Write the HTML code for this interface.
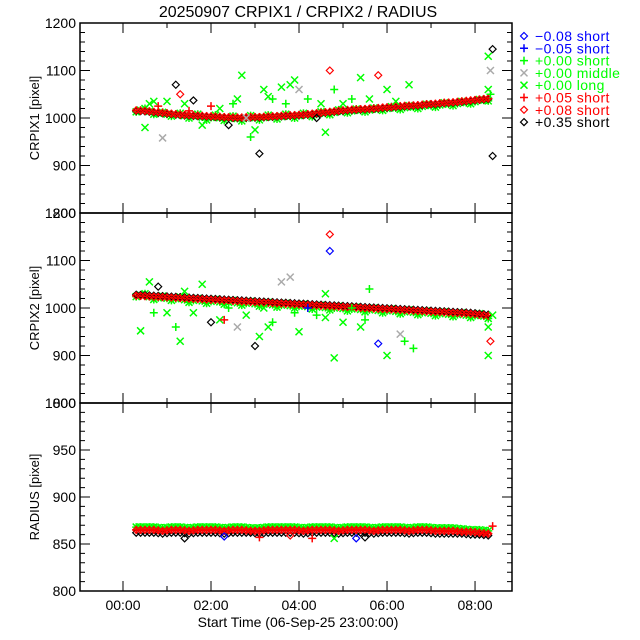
<!DOCTYPE html>
<html><head><meta charset="utf-8"><style>
body{margin:0;background:#fff}
svg{display:block;font-family:"Liberation Sans",sans-serif}
</style></head><body>
<svg id="chart" width="640" height="640" viewBox="0 0 640 640">
<rect width="640" height="640" fill="#fff"/>
<text x="298" y="17" font-size="16" text-anchor="middle">20250907 CRPIX1 / CRPIX2 / RADIUS</text>
<text x="298" y="627" font-size="14" text-anchor="middle">Start Time (06-Sep-25 23:00:00)</text>
<g id="plots"></g>
<g id="legend"></g>
</svg>
<script>
const times=[0.3,0.5,0.7,0.9,1.1,1.3,1.5,1.7,1.9,2.1,2.3,2.5,2.7,2.9,3.1,3.3,3.5,3.7,3.9,4.1,4.3,4.5,4.7,4.9,5.1,5.3,5.5,5.7,5.9,6.1,6.3,6.5,6.7,6.9,7.1,7.3,7.5,7.7,7.9,8.1,8.3];
const c1Black=[1015,1014,1012,1010,1008,1006,1005,1004,1003,1002,1001,1000,1000,1001,1001,1002,1003,1004,1005,1006,1008,1010,1012,1014,1016,1017,1018,1019,1021,1022,1024,1025,1026,1028,1029,1031,1032,1034,1036,1038,1040];
const c1Red=[1016,1015,1013,1011,1009,1007,1006,1005,1004,1003,1002,1001,1001,1002,1002,1003,1004,1005,1006,1007,1009,1011,1013,1015,1017,1018,1019,1020,1022,1023,1025,1026,1027,1029,1030,1032,1033,1035,1037,1039,1041];
const c1Green=[1013,1020,1008,1012,1004,1010,1000,1008,996,1006,995,1004,994,1005,996,1006,998,1008,1000,1010,1003,1013,1007,1017,1011,1019,1013,1021,1016,1024,1018,1026,1020,1029,1023,1032,1026,1035,1030,1039,1036];
const c2Black=[1028,1027,1026,1025,1024,1023,1022,1021,1020,1019,1018,1017,1016,1015,1014,1013,1012,1011,1010,1009,1008,1007,1006,1005,1004,1003,1002,1001,1000,999,998,997,996,995,994,993,992,991,990,988,986];
const c2Red=[1026,1025,1024,1023,1022,1021,1020,1019,1018,1017,1016,1015,1014,1013,1012,1011,1010,1009,1008,1007,1006,1005,1004,1003,1002,1001,1000,999,998,997,996,995,994,993,992,991,990,989,988,986,984];
const c2Green=[1024,1030,1018,1025,1016,1023,1012,1020,1010,1018,1008,1016,1006,1014,1004,1012,1002,1010,1000,1008,998,1006,996,1004,994,1002,992,1000,990,998,988,996,986,994,984,992,982,990,980,988,978];
const rBlack=[862,862,862,861,862,862,861,862,862,862,861,862,862,862,861,862,862,862,862,861,862,862,862,861,862,862,862,861,862,862,862,861,862,862,861,861,861,861,860,860,859];
const rRed=[865,865,865,864,865,865,864,865,865,865,864,865,865,864,864,865,865,865,865,864,865,865,865,864,865,865,865,864,865,865,865,864,865,865,864,864,864,863,863,862,861];
const rGreen=[868,868,868,867,868,868,867,868,868,868,867,868,868,867,867,868,868,868,868,867,868,868,868,867,868,868,868,867,868,868,868,867,868,868,867,867,867,866,865,865,864];
// outliers: time, value, series (0 blue diamond,1 blue +,2 green +,3 grey x,4 green x,5 red +,6 red diamond,7 black diamond)
const out1T=[0.5,0.7,0.8,0.9,1.0,1.2,1.3,1.4,1.6,1.8,2.0,2.2,2.4,2.6,2.7,2.8,2.9,3.0,3.1,3.2,3.4,3.6,3.8,3.9,4.0,4.2,4.4,4.6,4.7,4.8,5.0,5.4,5.8,6.0,6.5,8.3,8.4,8.4,8.35,0.6,1.5,2.5,3.3,3.7,4.5,5.2,5.6,6.2,8.3,8.35];
const out1V=[980,1035,1025,958,1035,1070,1050,1030,1037,985,1025,1020,985,1040,1090,1000,960,975,925,1060,1040,1065,1070,1080,1060,1040,1000,970,1100,1060,1030,1085,1090,1060,1070,1130,1145,920,1100,1030,1015,1030,1045,1030,1030,1040,1040,1035,1060,1050];
const out1S=[4,4,5,3,4,7,6,4,7,4,5,4,7,4,4,3,2,4,7,4,2,4,4,4,3,2,7,4,6,2,4,4,6,4,4,4,7,7,3,4,5,2,4,2,4,2,4,4,4,2];
const out2T=[0.4,0.6,0.8,1.0,1.2,1.4,1.6,1.8,2.0,2.2,2.4,2.6,2.8,3.0,3.1,3.2,3.4,3.6,3.8,4.0,4.2,4.4,4.6,4.7,4.7,4.8,5.0,5.2,5.4,5.6,5.8,6.0,6.3,6.6,8.3,8.35,8.4,0.7,1.3,2.3,3.3,3.9,4.6,5.5,6.4,8.3];
const out2V=[952,1055,1045,990,960,1035,990,1050,970,975,1000,960,985,920,940,1000,970,1055,1065,950,1000,985,1030,1155,1120,895,970,1000,960,1040,925,900,945,915,900,930,985,990,930,975,960,990,980,975,930,960];
const out2S=[4,4,7,4,2,4,4,4,7,4,2,3,4,7,4,4,2,3,3,4,1,2,4,6,0,4,4,2,4,2,0,4,3,2,4,6,4,2,4,5,4,2,4,2,2,4];
const out3T=[1.4,2.3,3.1,3.8,4.3,4.8,5.3,5.5,8.4];
const out3V=[856,858,857,859,856,856,856,857,869];
const out3S=[7,0,5,6,5,4,0,7,5];
const legendNums=["\u22120.08","\u22120.05","+0.00","+0.00","+0.00","+0.05","+0.08","+0.35"];
const legendKinds=["short","short","short","middle","long","short","short","short"];

const NS="http://www.w3.org/2000/svg";
const X0=80,X1=512,T0=-0.977,T1=8.84;
const xs=t=>X0+(t-T0)/(T1-T0)*(X1-X0);
const colors=["#0000ff","#0000ff","#00ff00","#aaaaaa","#00ff00","#ff0000","#ff0000","#000000"];
const shapes=["d","+","+","x","x","+","d","d"];
function el(tag,attrs,parent){const e=document.createElementNS(NS,tag);for(const k in attrs)e.setAttribute(k,attrs[k]);parent.appendChild(e);return e;}
function mark(g,x,y,s){const c=colors[s],sh=shapes[s];let e;
 if(sh==="d")e=el("path",{d:`M${x} ${y-3.5}L${x+3.5} ${y}L${x} ${y+3.5}L${x-3.5} ${y}Z`,fill:"none",stroke:c,"stroke-width":1.2},g);
 else if(sh==="+")e=el("path",{d:`M${x-4} ${y}H${x+4}M${x} ${y-4}V${y+4}`,stroke:c,"stroke-width":1.5},g);
 else e=el("path",{d:`M${x-3.5} ${y-3.5}L${x+3.5} ${y+3.5}M${x+3.5} ${y-3.5}L${x-3.5} ${y+3.5}`,stroke:c,"stroke-width":1.5},g);
 return e;}
const plots=document.getElementById("plots");
const panels=[
 {top:23,bot:213,min:800,max:1200,major:100,minor:20,label:"CRPIX1 [pixel]",series:[[c1Green,4],[c1Green,2],[c1Red,5],[c1Black,7],[c1Red,6]],oT:out1T,oV:out1V,oS:out1S,name:"crpix1-panel"},
 {top:213,bot:403,min:800,max:1200,major:100,minor:20,label:"CRPIX2 [pixel]",series:[[c2Green,4],[c2Green,2],[c2Red,5],[c2Black,7],[c2Red,6]],oT:out2T,oV:out2V,oS:out2S,name:"crpix2-panel"},
 {top:403,bot:591,min:800,max:1000,major:50,minor:10,label:"RADIUS [pixel]",series:[[rGreen,4],[rGreen,2],[rBlack,7],[rRed,5],[rRed,6]],oT:out3T,oV:out3V,oS:out3S,name:"radius-panel"}];
panels.forEach((p,pi)=>{
 const g=el("g",{},plots);
 
 
 const ys=v=>p.bot-(v-p.min)/(p.max-p.min)*(p.bot-p.top);
 el("rect",{x:X0,y:p.top,width:X1-X0,height:p.bot-p.top,fill:"none",stroke:"#000","stroke-width":1.5},g);
 for(let v=p.min;v<=p.max+0.01;v+=p.minor){const y=ys(v);const maj=Math.abs(v/p.major-Math.round(v/p.major))<1e-6;const L=maj?10:5;
  el("path",{d:`M${X0} ${y}h${L}M${X1} ${y}h${-L}`,stroke:"#000","stroke-width":1},g);
  if(maj){const t=el("text",{x:X0-4,y:y+5,"font-size":14,"text-anchor":"end"},g);t.textContent=v;
   
   }}
 for(let h=-1;h<=9;h++){const x=xs(h);if(x<X0||x>X1)continue;const L=h%2===0?10:5;
  el("path",{d:`M${x} ${p.bot}v${-L}M${x} ${p.top}v${L}`,stroke:"#000","stroke-width":1},g);}
 const yl=el("text",{x:0,y:0,"font-size":13,"text-anchor":"middle",transform:`translate(39 ${(p.top+p.bot)/2}) rotate(-90)`},g);yl.textContent=p.label;
 
 
 p.series.forEach(([vals,s])=>{times.forEach((t,i)=>{
   const m=mark(g,xs(t),ys(vals[i]),s);
   
   
   if(i<times.length-1){const m2=mark(g,xs(t+0.1),ys((vals[i]+vals[i+1])/2),s);
    
    }});});
 p.oT.forEach((t,i)=>{const m=mark(g,xs(t),ys(p.oV[i]),p.oS[i]);
  
  });
});
const xl=el("g",{},plots);
for(let h=0;h<=8;h+=2){const t=el("text",{x:xs(h),y:610,"font-size":14,"text-anchor":"middle"},xl);t.textContent=("0"+h).slice(-2)+":00";
 
 }
const lg=document.getElementById("legend");
legendNums.forEach((n,i)=>{const y=36+i*12.3;
 const m=mark(lg,524,y,i);
 
 
 const c=i===3||i===4?"#00ff00":colors[i];
 const t=el("text",{x:535,y:y+5,"font-size":14,fill:c,"letter-spacing":"0.4"},lg);t.textContent=n+" "+legendKinds[i];
 
 });
</script>
</body></html>
